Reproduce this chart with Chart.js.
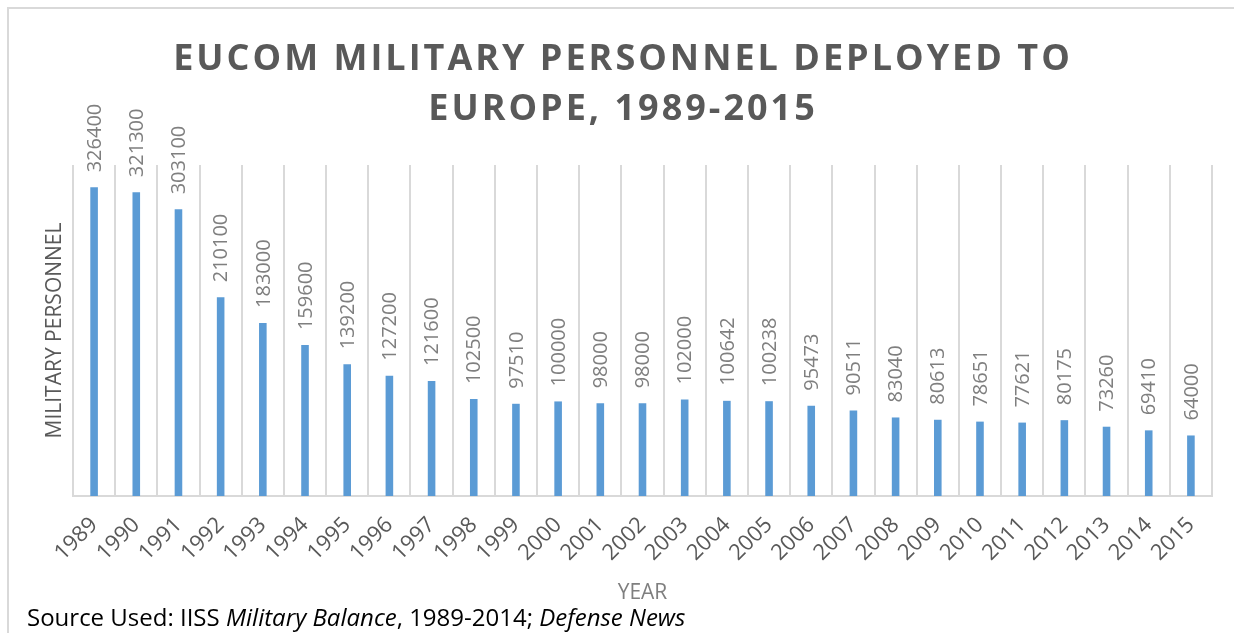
<!DOCTYPE html>
<html>
<head>
<meta charset="utf-8">
<script src="https://cdn.jsdelivr.net/npm/chart.js@4/dist/chart.umd.min.js"></script>
<style>
  body { margin: 0; background: #fff; font-family: 'Open Sans', sans-serif; }
  #wrap { position: relative; width: 1234px; height: 633px; overflow: hidden; }
  #frame { position: absolute; left: 7px; top: 7px; width: 1240px; height: 640px;
           border-left: 2px solid #d9d9d9; border-top: 2px solid #d9d9d9; }
  #title { position: absolute; left: 0; width: 1246px; top: 32px; text-align: center;
           color: #595959; font-weight: bold; font-size: 36px; line-height: 50px; letter-spacing: 3px; }
  #source { position: absolute; left: 27px; top: 600px; font-size: 24px; color: #000; }
  canvas { position: absolute; left: 0; top: 0; }
</style>
</head>
<body>
<div id="wrap">
  <div id="frame"></div>
  <canvas id="personnelChart" width="1234" height="633"></canvas>
  <div id="title">EUCOM MILITARY PERSONNEL DEPLOYED TO<br>EUROPE, 1989-2015</div>
  <div id="source">Source Used: IISS <i>Military Balance</i>, 1989-2014; <i>Defense News</i></div>
</div>
<script>
const years = ['1989', '1990', '1991', '1992', '1993', '1994', '1995', '1996', '1997', '1998',
    '1999', '2000', '2001', '2002', '2003', '2004', '2005', '2006', '2007', '2008',
    '2009', '2010', '2011', '2012', '2013', '2014', '2015'];
const personnel = [326400, 321300, 303100, 210100, 183000, 159600, 139200, 127200, 121600, 102500,
    97510, 100000, 98000, 98000, 102000, 100642, 100238, 95473, 90511, 83040,
    80613, 78651, 77621, 80175, 73260, 69410, 64000];

// draw the value above each bar, turned upright
const barLabels = {
    id: 'barLabels',
    afterDatasetsDraw(chart) {
        const ctx = chart.ctx;
        const meta = chart.getDatasetMeta(0);
        ctx.save();
        ctx.font = '20px "Open Sans"';
        ctx.fillStyle = '#7f7f7f';
        ctx.textAlign = 'left';
        ctx.textBaseline = 'middle';
        meta.data.forEach((bar, i) => {
            ctx.save();
            ctx.translate(bar.x + 1, bar.y - 15);
            ctx.rotate(-Math.PI / 2);
            ctx.fillText(String(personnel[i]), 0, 0);
            ctx.restore();
        });
        ctx.restore();
    }
};

const ctx = document.getElementById('personnelChart').getContext('2d');
const personnelChart = new Chart(ctx, {
    type: 'bar',
    data: {
        labels: years,
        datasets: [{
            label: 'Military Personnel',
            data: personnel,
            backgroundColor: '#5b9bd5',
            barPercentage: 0.18,
            categoryPercentage: 1
        }]
    },
    options: {
        responsive: false,
        animation: false,
        layout: { padding: { left: 40, right: 22, top: 165, bottom: 25 } },
        plugins: {
            legend: { display: false },
            tooltip: { enabled: false }
        },
        scales: {
            x: {
                grid: { color: '#d9d9d9', lineWidth: 2, drawTicks: false },
                border: { color: '#d9d9d9', width: 2 },
                ticks: {
                    color: '#595959',
                    font: { family: 'Open Sans', size: 22 },
                    minRotation: 45, maxRotation: 45,
                    padding: 16
                },
                title: {
                    display: true, text: 'YEAR', color: '#7f7f7f',
                    font: { family: 'Open Sans', size: 21 },
                    padding: { top: 0, bottom: 2 }
                },
                afterFit: (scale) => { scale.height = 112; }
            },
            y: {
                min: 0, max: 350000,
                grid: { display: false },
                border: { display: false },
                ticks: { display: false },
                title: {
                    display: true, text: 'MILITARY PERSONNEL', color: '#595959',
                    font: { family: 'Open Sans', size: 21 },
                    padding: 2
                },
                afterFit: (scale) => { scale.width = 33; }
            }
        }
    },
    plugins: [barLabels]
});
</script>
</body>
</html>
